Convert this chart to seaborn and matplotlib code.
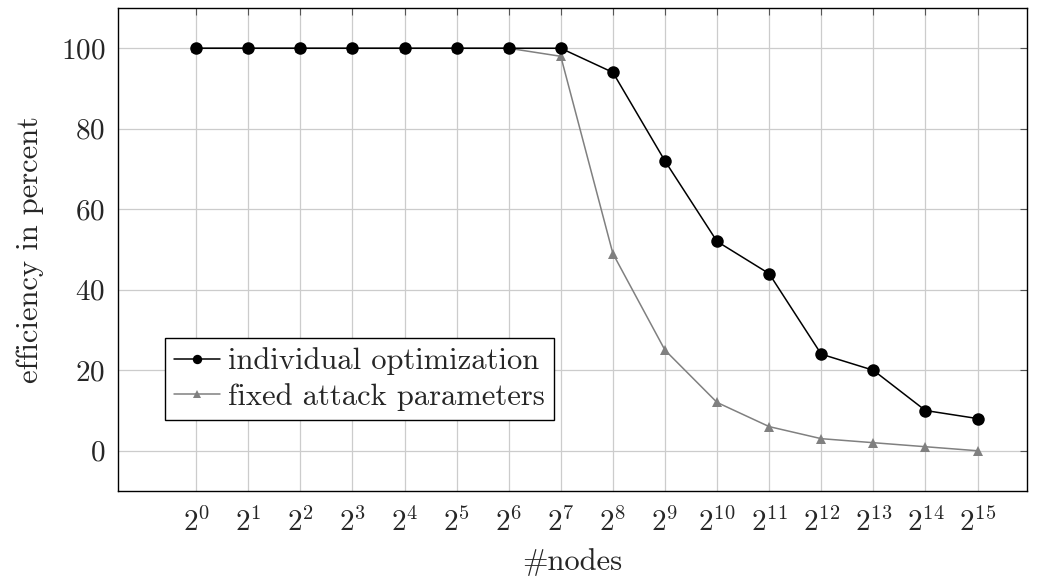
import matplotlib
matplotlib.use("Agg")
import matplotlib.pyplot as plt
import seaborn as sns
import pandas as pd
import numpy as np

exponents = list(range(16))
tick_labels = [f"$2^{{{e}}}$" for e in exponents]
individual = [100, 100, 100, 100, 100, 100, 100, 100, 94, 72, 52, 44, 24, 20, 10, 8]
fixed = [100, 100, 100, 100, 100, 100, 100, 98, 49, 25, 12, 6, 3, 2, 1, 0]
series_names = ["individual optimization", "fixed attack parameters"]

sns.set_style("white")
plt.rcParams['font.family'] = ['cmr10', 'DejaVu Serif']
plt.rcParams['mathtext.fontset'] = 'cm'
plt.rcParams['axes.formatter.use_mathtext'] = True

fig = plt.figure(figsize=(10.53, 5.81), dpi=100)
ax = fig.add_axes([118/1053, 1 - 491/581, 909/1053, 483/581])

df = pd.DataFrame({
    "x": exponents * 2,
    "y": individual + fixed,
    "series": [series_names[0]] * 16 + [series_names[1]] * 16,
})

sns.lineplot(data=df[df.series == series_names[0]], x="x", y="y", ax=ax,
             color="black", marker="o", markersize=9, markeredgewidth=0,
             linewidth=1.1, label=series_names[0], zorder=4)
sns.lineplot(data=df[df.series == series_names[1]], x="x", y="y", ax=ax,
             color="#808080", marker="^", markersize=7, markeredgewidth=0,
             linewidth=1.1, label=series_names[1], zorder=3)

ax.set_xlim(-1.5, 15.95)
ax.set_ylim(-10, 110)
ax.set_xticks(exponents)
ax.set_xticklabels(tick_labels)
ax.set_yticks([0, 20, 40, 60, 80, 100])
ax.grid(True, color="#cccccc", linewidth=0.9)
ax.set_axisbelow(True)
for s in ax.spines.values():
    s.set_color("black")
    s.set_linewidth(1.0)
ax.tick_params(axis="both", direction="in", length=5, width=0.8, color="#555555",
               top=True, right=True, labelsize=21, pad=12)
ax.tick_params(axis="y", pad=9)

ax.set_xlabel("#nodes", fontsize=22, labelpad=8)
ax.set_ylabel("efficiency in percent", fontsize=22, labelpad=12)

leg = ax.legend(loc="lower left", bbox_to_anchor=(0.052, 0.147), fontsize=22,
                frameon=True, fancybox=False, framealpha=1, edgecolor="black",
                handlelength=1.5, handletextpad=0.25, borderpad=0.3, labelspacing=0.25,
                borderaxespad=0, markerscale=0.75)
leg.get_frame().set_linewidth(1.0)

fig.savefig("out.png", dpi=100)
